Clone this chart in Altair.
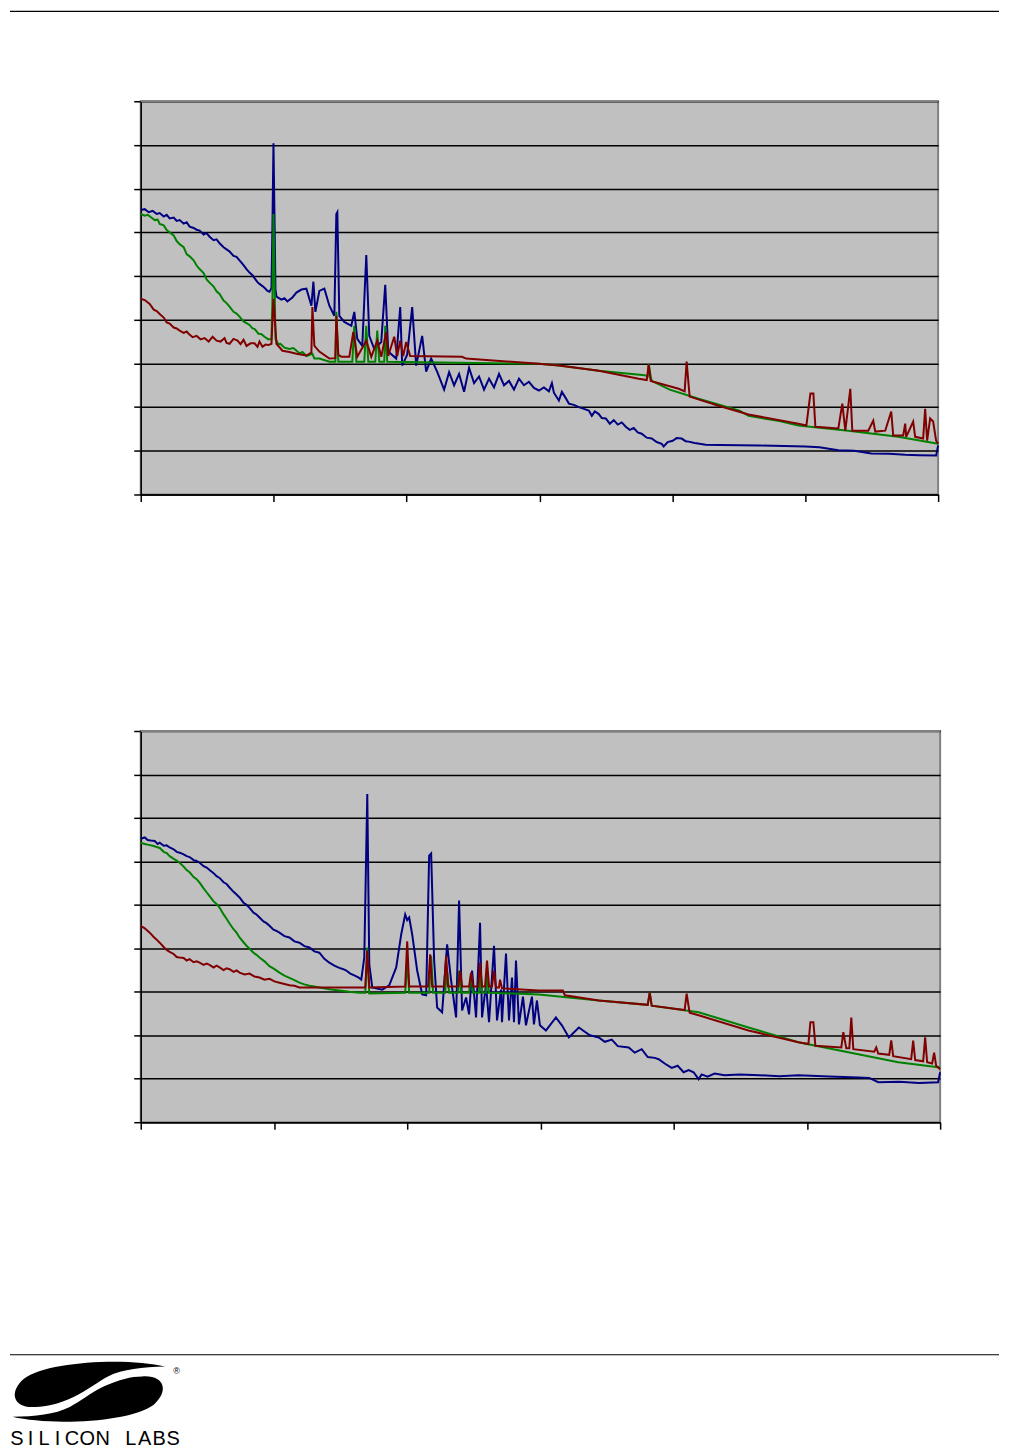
import altair as alt
import pandas as pd

# ---------------- data (x: frequency units 0..~800, y: level 0..90) ----------------
TOP_BLUE = [(0,65.1),(4,65.3),(8,64.6),(12,64.9),(16,64.2),(19,64.4),(23,63.6),(26,64.0),(29,63.2),(33,63.4),
            (36,62.6),(39,62.8),(43,62.0),(46,62.3),(49,61.3),(53,61.0),(56,60.6),(59,60.4),(63,59.5),(66,59.8),
            (69,59.0),(73,58.2),(76,58.4),(79,57.5),(83,56.6),(86,56.1),(89,55.6),(93,54.6),(96,54.4),(99,53.6),
            (103,52.5),(106,51.6),(109,50.8),(112,50.2),(114,49.5),(117,48.6),(119,48.2),(122,47.7),(124,47.3),(127,46.6),
            (129,46.4),(131,47.2),(132,62.0),(133,80.4),(134,64.0),
            (135,47.0),(136,45.3),(141,44.6),(144,44.9),(147,44.2),(152,45.1),(156,46.2),(161,46.9),(166,47.1),(171,43.2),(173,48.7),
            (175,41.8),(179,46.6),(184,47.1),(189,43.2),(194,40.9),(196,64.2),(197,64.6),(199,40.9),(204,39.5),(211,38.6),
            (214,41.8),(217,35.6),(222,34.0),(226,54.8),(229,36.3),(234,33.3),(241,34.9),(245,48.0),(248,32.7),(256,31.1),
            (260,42.9),(262,29.5),(267,32.0),(272,42.9),(276,29.5),(282,36.3),(286,28.1),(291,31.1),(297,28.1),(304,24.0),
            (309,28.0),(314,25.0),(319,27.6),(324,23.5),(329,29.0),(334,25.5),(339,27.0),(344,24.0),(349,26.5),(354,24.5),
            (359,27.6),(364,25.0),(369,26.0),(374,24.0),(379,26.5),(384,25.0),(389,25.8),(394,24.4),(399,23.8),(404,24.5),
            (409,23.6),(412,25.5),(414,23.3),(419,21.5),(422,23.5),(426,22.0),(429,20.8),(434,20.5),(439,20.0),(444,19.6),
            (449,19.2),(452,18.0),(455,19.0),(459,18.4),(462,17.5),(466,17.4),(470,16.2),(474,17.0),(478,16.0),(482,16.5),
            (486,15.5),(490,14.8),(494,15.2),(498,14.2),(502,13.9),(507,13.0),(512,12.8),(517,12.0),(522,11.6),(524,11.0),
            (528,12.0),(533,12.3),(537,12.9),(542,12.8),(546,12.2),(549,12.1),(555,11.8),(560,11.6),(566,11.4),(580,11.3),
            (620,11.2),(666,11.0),(680,10.8),(699,10.1),(715,10.0),(732,9.4),(750,9.3),(766,9.1),(780,9.0),(797,8.9),(799,11.2)]

TOP_GREEN = [(0,64.2),(4,63.8),(7,64.0),(10,63.5),(14,62.8),(17,62.9),(19,61.9),(23,61.6),(26,60.5),(29,60.0),
             (33,59.3),(36,58.0),(39,57.3),(43,56.6),(46,55.0),(49,54.5),(53,53.6),(56,52.4),(59,51.6),(63,50.7),
             (66,49.2),(69,48.5),(73,47.6),(76,46.5),(79,45.9),(83,44.4),(86,43.8),(89,43.0),(93,41.8),(96,41.4),
             (99,40.7),(103,39.6),(106,39.2),(109,38.8),(112,38.0),(114,37.9),(118,36.8),(121,36.7),(124,36.1),(128,35.5),
             (131,35.6),(132,45.0),(133,64.2),(134,50.0),(135,35.6),(138,34.4),(140,34.5),(144,33.6),(149,33.3),(153,33.5),
             (159,32.3),(162,32.6),(166,31.7),(172,32.2),(174,31.1),(179,31.1),(189,30.4),(195,30.4),(196,41.8),(198,30.4),
             (212,30.4),(214,38.6),(216,30.4),(224,30.4),(226,38.6),(228,30.4),(235,30.4),(237,37.5),(239,30.4),(244,30.4),
             (245,38.6),(247,30.4),(399,29.9),(419,29.5),(459,28.3),(505,27.3),(508,27.0),(509,29.9),(511,27.0),(512,26.0),
             (530,24.0),(559,21.9),(600,19.2),(609,18.0),(640,16.8),(659,15.8),(709,14.6),(759,13.2),(799,11.6)]

TOP_RED = [(0,44.8),(4,44.5),(9,43.6),(13,42.3),(16,42.0),(19,41.3),(23,40.5),(26,39.4),(29,39.1),(33,38.2),
           (36,38.0),(39,37.5),(43,37.0),(46,37.3),(48,36.8),(52,36.0),(56,36.3),(60,35.5),(64,35.8),(68,35.0),
           (72,36.1),(76,35.2),(80,35.0),(84,35.8),(86,34.7),(89,34.5),(93,35.6),(97,35.2),(100,34.4),(103,35.4),
           (106,34.0),(110,34.6),(114,34.6),(117,33.8),(119,35.0),(122,33.8),(125,34.3),(128,34.2),(131,34.5),(133,44.8),
           (136,34.5),(142,32.9),(149,32.6),(156,32.2),(166,31.8),(171,32.5),(172,42.9),(174,34.0),(179,32.7),(189,31.1),(195,31.2),(196,40.9),(198,32.0),
           (201,31.5),(209,31.5),(213,37.2),(217,31.5),(226,35.2),(231,31.5),(237,35.2),(241,31.5),(246,37.2),(248,31.7),
           (254,36.1),(257,31.7),(260,35.2),(263,31.7),(266,34.9),(270,31.7),(322,31.5),(326,31.1),(399,29.9),(419,29.5),
           (459,28.3),(499,26.5),(507,26.2),(509,29.7),(511,26.0),(539,24.2),(545,23.6),(547,30.4),(550,22.4),(579,20.3),
           (609,18.3),(659,16.2),(667,15.8),(671,23.1),(674,23.1),(676,15.5),(699,15.1),(703,20.8),(706,14.6),(711,24.2),
           (713,14.6),(729,14.6),(734,16.9),(736,14.4),(746,14.6),(752,19.0),(754,13.5),(764,13.5),(766,16.2),(767,13.2),
           (774,16.7),(776,13.2),(784,12.8),(786,19.6),(788,12.3),(791,17.4),(794,16.7),(797,12.3),(799,11.6)]

BOT_BLUE = [(0,65.2),(4,65.5),(7,64.9),(10,64.8),(14,64.7),(17,64.0),(19,64.3),(23,63.6),(26,63.7),(29,63.2),
            (33,62.8),(36,62.2),(39,62.0),(43,61.6),(46,61.2),(49,61.0),(53,60.3),(56,60.1),(59,59.7),(63,58.9),
            (66,58.6),(69,58.0),(73,57.3),(76,56.6),(79,56.2),(83,55.2),(86,54.8),(89,54.0),(93,53.0),(96,52.4),
            (99,51.7),(103,50.5),(106,50.0),(109,49.3),(113,48.2),(116,47.8),(119,47.1),(123,46.2),(126,45.8),(129,45.2),
            (133,44.3),(136,44.0),(139,43.6),(144,42.8),(149,42.5),(154,41.6),(159,41.3),(164,40.5),(169,40.2),(174,39.3),
            (179,39.0),(184,37.6),(189,36.7),(194,36.0),(199,35.5),(203,35.2),(206,34.9),(210,34.2),(214,33.8),(218,33.3),
            (221,32.8),(224,37.9),(227,75.5),(229,36.3),(232,31.0),(242,30.5),(249,31.5),
            (256,35.6),(261,43.2),(265,47.8),(267,46.5),(269,47.1),(272,43.2),(277,34.9),(282,29.4),(286,29.2),(289,61.3),
            (291,61.8),(294,37.2),(297,26.4),(302,25.3),(307,40.9),(311,32.6),(316,24.1),(319,51.0),(322,25.7),(326,28.7),
            (329,24.8),(332,34.9),(336,24.1),(340,45.9),(342,24.1),(346,31.7),(349,23.0),(354,40.6),(357,23.4),(361,30.5),
            (362,23.0),(366,38.8),(369,23.4),(372,33.3),(374,23.0),(376,37.2),(379,22.5),(383,28.9),(386,22.3),(392,28.9),
            (394,22.5),(397,28.0),(400,22.3),(406,21.1),(416,24.1),(422,22.3),(429,19.5),(439,21.8),(450,20.0),(459,19.5),
            (465,18.5),(472,19.0),(478,17.5),(489,17.2),(495,16.0),(502,16.8),(508,15.0),(515,14.8),(519,14.5),(525,13.5),
            (532,12.5),(538,13.0),(544,11.5),(549,12.0),(554,11.5),(559,9.9),(562,11.0),(568,10.5),(575,11.2),(585,10.8),
            (600,11.0),(620,10.8),(640,10.6),(659,10.8),(690,10.5),(719,10.3),(730,10.2),(739,9.2),(760,9.3),(780,9.0),
            (799,9.2),(801,11.5)]

BOT_GREEN = [(0,64.3),(4,64.0),(8,63.8),(12,63.6),(16,63.3),(19,63.1),(23,62.2),(26,61.9),(29,61.2),(33,60.6),
             (36,60.2),(39,59.7),(43,58.8),(46,58.0),(49,57.5),(53,56.4),(56,55.9),(59,55.1),(63,53.8),(66,52.9),
             (69,52.0),(73,50.8),(76,50.2),(79,49.4),(83,47.8),(86,46.8),(89,45.7),(93,44.4),(96,43.6),(99,42.5),
             (103,41.4),(106,40.6),(109,39.9),(113,39.0),(116,38.5),(119,37.9),(124,37.0),(129,35.9),(134,35.2),(139,34.4),
             (144,33.7),(149,33.2),(154,32.7),(159,32.1),(164,31.7),(169,31.4),(174,31.2),(179,31.0),(189,30.6),(199,30.3),
             (209,30.0),(219,29.8),(225,29.8),(227,40.2),(229,29.6),(265,29.8),(267,37.2),(269,29.8),(289,29.8),(291,38.3),
             (293,29.8),(305,29.8),(307,34.9),(309,29.8),(318,29.8),(319,34.9),(321,29.8),(329,29.8),(331,34.0),(333,29.8),
             (339,29.8),(340,35.6),(342,29.8),(346,29.8),(347,34.9),(349,29.8),(399,29.4),(459,28.0),(508,27.0),(510,29.8),
             (512,26.8),(559,25.3),(609,21.8),(659,18.4),(709,16.1),(759,13.8),(801,12.6)]

BOT_RED = [(0,45.2),(4,44.6),(9,43.6),(13,42.6),(16,42.0),(19,41.3),(23,40.3),(26,39.6),(29,39.2),(33,38.7),
           (36,38.0),(39,37.9),(43,37.8),(46,37.2),(49,37.5),(53,36.8),(56,37.0),(59,36.7),(63,36.2),(66,36.5),
           (69,36.2),(73,35.6),(76,36.0),(79,35.6),(83,35.0),(86,35.4),(89,35.2),(93,34.6),(96,34.9),(99,34.4),
           (104,34.0),(109,34.2),(114,33.5),(119,33.3),(124,32.8),(129,33.0),(134,32.4),(139,32.1),(144,31.8),(149,31.5),
           (154,31.4),(159,31.0),(179,31.0),(199,31.0),(219,31.0),(225,31.0),(227,39.5),(229,31.0),
           (265,31.2),(267,41.6),(269,31.2),(288,31.2),(290,38.6),(292,31.2),(304,31.2),(306,38.3),(308,31.2),(318,31.2),
           (320,34.9),(322,31.2),(329,31.2),(331,34.4),(333,31.2),(338,31.2),(340,36.7),(342,31.2),(345,31.2),(347,37.2),
           (349,31.2),(352,31.2),(354,34.9),(356,31.0),(359,31.0),(360,32.8),(362,30.8),(399,30.3),(423,30.3),(425,29.2),
           (459,28.0),(508,27.0),(510,29.8),(512,26.8),(545,25.8),(547,29.6),(550,25.2),(559,24.6),(609,21.1),(659,18.4),
           (669,18.0),(671,23.0),(674,23.0),(676,17.6),(702,17.2),(704,20.7),(707,17.0),(710,17.0),(712,24.1),(714,16.8),
           (735,16.2),(737,17.2),(739,15.8),(750,15.5),(752,18.8),(754,15.2),(772,14.5),(774,18.8),(776,14.3),(784,14.0),
           (786,19.5),(788,13.8),(793,13.5),(795,16.0),(797,13.0),(801,12.2)]

COLORS = {"blue": "#000080", "green": "#008000", "red": "#800000"}
Y_TICKS = [0, 10, 20, 30, 40, 50, 60, 70, 80, 90]

LOGO_LETTERS = list("SILICON") + list("LABS")
LOGO_LETTER_POS = [17, 30.5, 44, 57.5, 72, 87.5, 103, 131, 145, 159.5, 173.5]

LOGO_TOP = ("M 1 -0.33 C 0.7 -0.32 0.45 -0.3 0.25 -0.2 C 0.1 -0.12 0.0 -0.03 -0.2 0.07 "
            "C -0.4 0.16 -0.55 0.2 -0.7 0.2 C -1.0 0.22 -1.05 0.0 -0.85 -0.17 "
            "C -0.55 -0.4 0.5 -0.45 1 -0.33 Z")
LOGO_BOT = ("M -1 0.33 C -0.7 0.32 -0.45 0.3 -0.25 0.2 C -0.1 0.12 0.0 0.03 0.2 -0.07 "
            "C 0.4 -0.16 0.55 -0.2 0.7 -0.2 C 1.0 -0.22 1.05 0.0 0.85 0.17 "
            "C 0.55 0.4 -0.5 0.45 -1 0.33 Z")

ONE = pd.DataFrame({"k": [0]})


def panel(series, xmax, w):
    xt = [xmax * k / 6 for k in range(7)]
    xs = alt.Scale(domain=[0, xmax], nice=False, zero=False)
    ys = alt.Scale(domain=[0, 90], nice=False)
    xa = alt.Axis(values=xt, grid=False, labels=False, title=None, domainColor="black",
                  domainWidth=1.5, tickColor="black", tickWidth=1.5, tickSize=7)
    ya = alt.Axis(values=Y_TICKS, grid=True, gridColor="black", gridWidth=1.5, labels=False,
                  title=None, domainColor="black", domainWidth=1.5, tickColor="black",
                  tickWidth=1.5, tickSize=7)
    layers = []
    for name, pts in series:
        df = pd.DataFrame({"f": [p[0] for p in pts], "a": [p[1] for p in pts]})
        layers.append(
            alt.Chart(df).mark_line(color=COLORS[name], strokeWidth=2).encode(
                x=alt.X("f:Q", scale=xs, axis=xa),
                y=alt.Y("a:Q", scale=ys, axis=ya),
            )
        )
    border = alt.Chart(ONE).mark_rule(color="#808080", strokeWidth=2).encode(
        x=alt.value(0), x2=alt.value(w), y=alt.value(0))
    return layers, border


top_layers, top_border = panel([("blue", TOP_BLUE), ("green", TOP_GREEN), ("red", TOP_RED)], 799, 799)
bot_layers, bot_border = panel([("blue", BOT_BLUE), ("green", BOT_GREEN), ("red", BOT_RED)], 801, 801)

header = alt.Chart(ONE).mark_rule(color="black", strokeWidth=1.2).encode(
    x=alt.value(-131), x2=alt.value(860), y=alt.value(-90))

footer = alt.Chart(ONE).mark_rule(color="black", strokeWidth=1.2).encode(
    x=alt.value(-131), x2=alt.value(860), y=alt.value(625))
logo_a = alt.Chart(ONE).mark_point(shape=LOGO_TOP, size=23409, filled=True, color="black",
                                   opacity=1, strokeWidth=0).encode(x=alt.value(-52), y=alt.value(662))
logo_b = alt.Chart(ONE).mark_point(shape=LOGO_BOT, size=23409, filled=True, color="black",
                                   opacity=1, strokeWidth=0).encode(x=alt.value(-52), y=alt.value(662))
letter_layers = [
    alt.Chart(ONE).mark_text(align="center", baseline="alphabetic", fontSize=20,
                             font="Liberation Sans", color="black").encode(
        x=alt.value(px - 141), y=alt.value(715), text=alt.value(ch))
    for ch, px in zip(LOGO_LETTERS, LOGO_LETTER_POS)
]
logo_reg = alt.Chart(ONE).mark_text(align="center", baseline="middle", fontSize=9,
                                    font="Liberation Sans", color="black").encode(
    x=alt.value(36), y=alt.value(641), text=alt.value("®"))

top = alt.layer(*top_layers, top_border, header).properties(width=799, height=394)
bottom = alt.layer(*bot_layers, bot_border, footer, logo_a, logo_b, logo_reg, *letter_layers).properties(
    width=801, height=392)

chart = alt.vconcat(top, bottom, spacing=237, bounds="flush").properties(padding=0).configure_view(
    fill="#C0C0C0", stroke="#808080", strokeWidth=2)

chart.save("out.html", embed_options={"renderer": "svg", "actions": False})
